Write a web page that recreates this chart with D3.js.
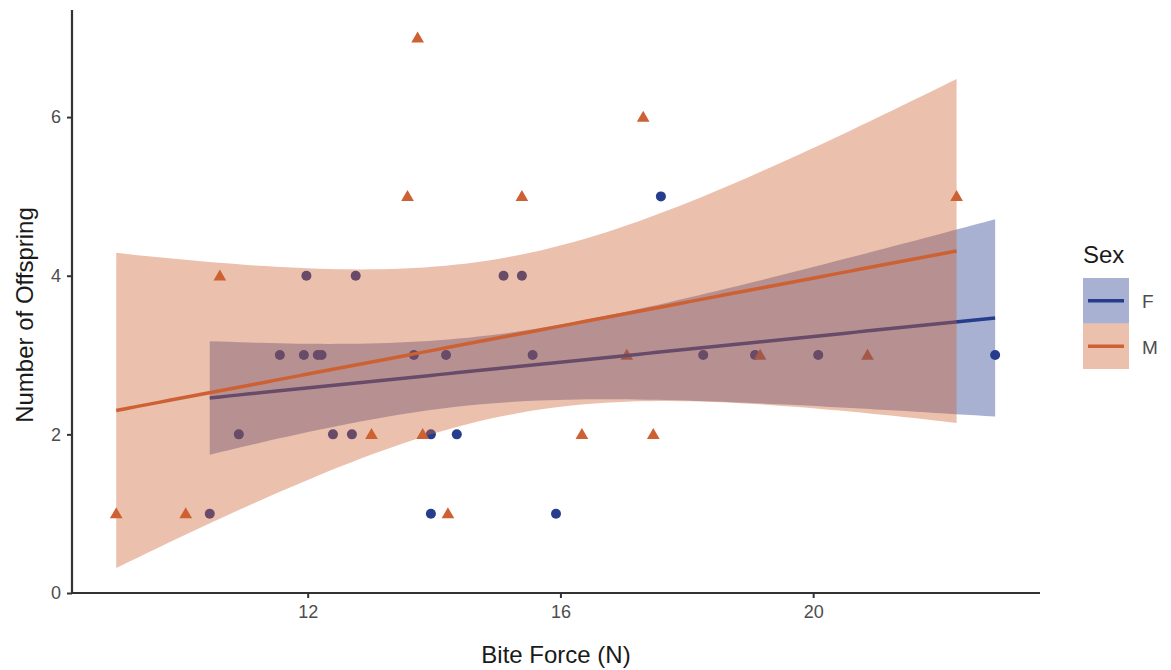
<!DOCTYPE html>
<html><head><meta charset="utf-8">
<script src="https://cdn.jsdelivr.net/npm/d3@7"></script>
<style>
html,body{margin:0;padding:0;background:#fff;}
text{font-family:"Liberation Sans",Arial,sans-serif;}
</style></head>
<body><svg id="c" width="1171" height="670"></svg>
<script>
// ---- data ----
const femaleForce = [10.45,10.91,11.56,11.94,11.98,12.16,12.22,12.40,12.70,12.76,13.68,13.95,13.95,14.19,14.36,15.10,15.39,15.56,15.93,17.59,18.26,19.08,20.08,22.88];
const femaleOffspring = [1,2,3,3,4,3,3,2,2,4,3,2,1,3,2,4,4,3,1,5,3,3,3,3];
const maleForce = [8.97,10.07,10.61,13.01,13.58,13.74,13.82,14.22,15.39,16.34,17.05,17.31,17.47,19.16,20.86,22.27];
const maleOffspring = [1,1,4,2,5,7,2,1,5,2,3,6,2,3,3,5];
const sexes = ["F","M"];
const xTicks = [12,16,20];
const yTicks = [0,2,4,6];

const colors = {F:"#263C8D", M:"#CD6133"};

const svg = d3.select("#c");
const x = d3.scaleLinear().domain([8.27,23.59]).range([72,1040]);
const y = d3.scaleLinear().domain([0,7.35]).range([593,10]);

const tTable = {14:2.1448,15:2.1314,22:2.0739,23:2.0687};
function tq(df){return tTable[df] || 1.96 + 2.4/df;}

function fit(xs, ys){
  const n = xs.length;
  const mx = d3.mean(xs), my = d3.mean(ys);
  let sxx=0, sxy=0;
  for(let i=0;i<n;i++){sxx+=(xs[i]-mx)**2; sxy+=(xs[i]-mx)*(ys[i]-my);}
  const b = sxy/sxx, a = my - b*mx;
  let sse=0; for(let i=0;i<n;i++){sse+=(ys[i]-a-b*xs[i])**2;}
  const s = Math.sqrt(sse/(n-2));
  const t = tq(n-2);
  const lo = d3.min(xs), hi = d3.max(xs);
  return d3.range(80).map(k=>{
    const x0 = lo + (hi-lo)*k/79;
    const f = a + b*x0;
    const se = s*Math.sqrt(1/n + (x0-mx)**2/sxx);
    return {x:x0, f:f, lo:f-t*se, hi:f+t*se};
  });
}

const groups = {
  F: {xs: femaleForce, ys: femaleOffspring},
  M: {xs: maleForce, ys: maleOffspring}
};

// points (drawn first, as in the original)
const gp = svg.append("g");
sexes.forEach(s=>{
  const g = groups[s];
  g.xs.forEach((v,i)=>{
    if(s==="F"){
      gp.append("circle").attr("cx",x(v)).attr("cy",y(g.ys[i])).attr("r",5).attr("fill",colors.F);
    } else {
      gp.append("path").attr("d", d3.symbol(d3.symbolTriangle, 70)())
        .attr("transform",`translate(${x(v)},${y(g.ys[i])+1})`).attr("fill",colors.M);
    }
  });
});

// smooths: ribbon then line per group
sexes.forEach(s=>{
  const pts = fit(groups[s].xs, groups[s].ys);
  svg.append("path").datum(pts)
    .attr("d", d3.area().x(d=>x(d.x)).y0(d=>y(d.lo)).y1(d=>y(d.hi)))
    .attr("fill", colors[s]).attr("fill-opacity",0.4);
  svg.append("path").datum(pts)
    .attr("d", d3.line().x(d=>x(d.x)).y(d=>y(d.f)))
    .attr("fill","none").attr("stroke",colors[s]).attr("stroke-width",3.5);
});

// axes
const axCol = "#333333";
const xa = svg.append("g").attr("transform","translate(0,593)")
  .call(d3.axisBottom(x).tickValues(xTicks).tickSize(5).tickPadding(7).tickFormat(d3.format("d")));
const ya = svg.append("g").attr("transform","translate(72,0)")
  .call(d3.axisLeft(y).tickValues(yTicks).tickSize(5).tickPadding(6).tickFormat(d3.format("d")));
[xa,ya].forEach(a=>{
  a.select(".domain").attr("stroke",axCol).attr("stroke-width",2.2);
  a.selectAll(".tick line").attr("stroke",axCol).attr("stroke-width",2);
  a.selectAll(".tick text").attr("fill","#4D4D4D").style("font-size","18px");
});
xa.select(".domain").attr("d","M72,0H1040");
ya.select(".domain").attr("d","M0,593V10");

svg.append("text").attr("x",556).attr("y",663).attr("text-anchor","middle")
  .style("font-size","24px").attr("fill","#1a1a1a").text("Bite Force (N)");
svg.append("text").attr("transform","translate(33,315) rotate(-90)").attr("text-anchor","middle")
  .style("font-size","24px").attr("fill","#1a1a1a").text("Number of Offspring");

// legend
const lg = svg.append("g").attr("transform","translate(1083,0)");
lg.append("text").attr("x",0).attr("y",263).style("font-size","24px").attr("fill","#1a1a1a").text("Sex");
sexes.forEach((s,i)=>{
  const y0 = 278 + i*45.5;
  lg.append("rect").attr("x",0).attr("y",y0).attr("width",46).attr("height",45.5)
    .attr("fill",colors[s]).attr("fill-opacity",0.4);
  lg.append("line").attr("x1",5).attr("x2",41).attr("y1",y0+22.75).attr("y2",y0+22.75)
    .attr("stroke",colors[s]).attr("stroke-width",3.5);
  lg.append("text").attr("x",59).attr("y",y0+30).style("font-size","19px").attr("fill","#4D4D4D").text(s);
});
</script></body></html>
